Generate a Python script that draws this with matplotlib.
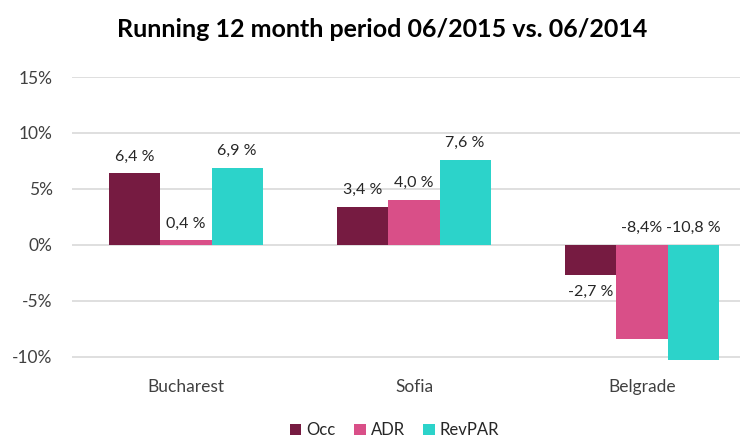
import numpy as np
import matplotlib
matplotlib.use('Agg')
import matplotlib.pyplot as plt
from matplotlib.ticker import FuncFormatter

plt.rcParams['font.family'] = ['Lato', 'DejaVu Sans']

cities = ['Bucharest', 'Sofia', 'Belgrade']
series = ['Occ', 'ADR', 'RevPAR']
occ = [6.4, 3.4, -2.7]
adr = [0.4, 4.0, -8.4]
revpar = [6.9, 7.6, -10.8]
occ_labels = ['6,4 %', '3,4 %', '-2,7 %']
adr_labels = ['0,4 %', '4,0 %', '-8,4%']
revpar_labels = ['6,9 %', '7,6 %', '-10,8 %']
colors = ['#761B41', '#D94F88', '#2CD3CA']

fig = plt.figure(figsize=(7.4, 4.38), dpi=100)
ax = fig.add_axes([72 / 740, 78 / 438, 684 / 740, 283 / 438])

x = np.arange(len(cities))
w = 0.224
data = [occ, adr, revpar]
labels = [occ_labels, adr_labels, revpar_labels]
for i, (vals, labs) in enumerate(zip(data, labels)):
    pos = x + (i - 1) * w
    ax.bar(pos, vals, w, color=colors[i], label=series[i], zorder=2)
    for p, v, t in zip(pos, vals, labs):
        if v >= 0:
            ax.annotate(t, (p, v), xytext=(0, 7), textcoords='offset points',
                        ha='center', va='bottom', fontsize=11.5, color='#262626')
        elif i == 0:
            ax.annotate(t, (p, v), xytext=(0, -7), textcoords='offset points',
                        ha='center', va='top', fontsize=11.5, color='#262626')
        else:
            ax.annotate(t, (p, 0), xytext=(0, 7), textcoords='offset points',
                        ha='center', va='bottom', fontsize=11.5, color='#262626')

ax.set_xlim(-0.5, 2.5)
ax.set_ylim(-10.3, 15)
ax.set_yticks([-10, -5, 0, 5, 10, 15])
ax.yaxis.set_major_formatter(FuncFormatter(lambda v, _: '{:.0f}%'.format(v)))
ax.set_xticks(x)
ax.set_xticklabels(cities)
ax.tick_params(length=0, labelsize=12.5, colors='#404040')
ax.tick_params(axis='x', pad=14)
ax.tick_params(axis='y', pad=14)
ax.grid(axis='y', color='#D9D9D9', linewidth=1.2, zorder=0)
ax.set_axisbelow(True)
for s in ax.spines.values():
    s.set_visible(False)

fig.suptitle('Running 12 month period 06/2015 vs. 06/2014', x=0.516, y=0.958,
             fontsize=18, fontweight='bold', color='black')
fig.legend(loc='lower center', bbox_to_anchor=(0.533, -0.035), ncol=3, frameon=False,
           fontsize=12, handlelength=0.7, handleheight=0.7, handletextpad=0.3,
           columnspacing=1.1, labelcolor='#262626')

fig.savefig('out.png', dpi=100)
